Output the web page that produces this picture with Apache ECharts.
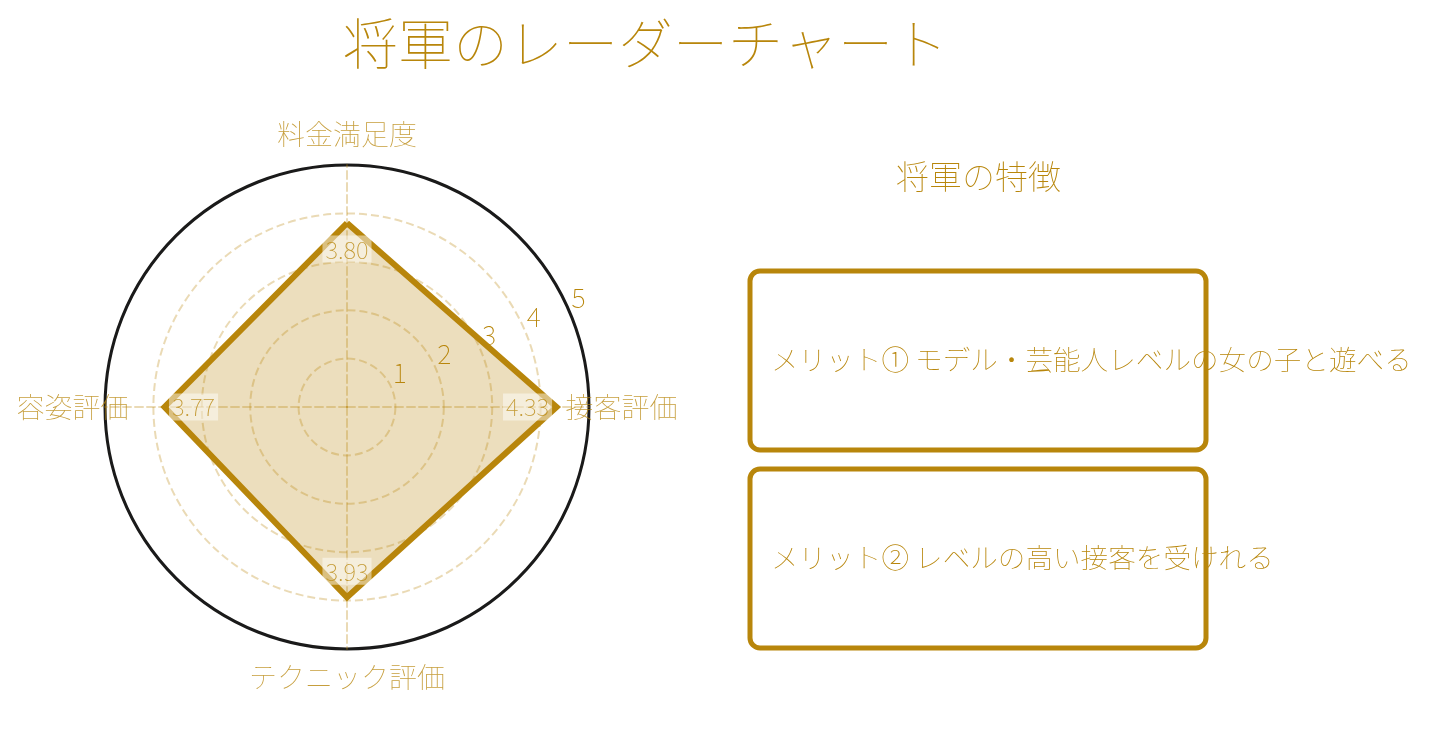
<!DOCTYPE html>
<html>
<head>
<meta charset="utf-8">
<script src="https://cdn.jsdelivr.net/npm/echarts@6/dist/echarts.min.js"></script>
<style>
  html, body { margin: 0; padding: 0; background: #fff; }
  #main { width: 1433px; height: 736px; }
</style>
</head>
<body>
<div id="main"></div>
<script>
// チャートのデータ（レーダーは上から反時計回り）
var indicatorNames = ['料金満足度', '容姿評価', 'テクニック評価', '接客評価'];
var scores = [3.80, 3.77, 3.93, 4.33];
var scoreMax = 5;
var merits = ['メリット① モデル・芸能人レベルの女の子と遊べる', 'メリット② レベルの高い接客を受けれる'];

var GOLD = '#B8860B';
var FONT = 'Noto Sans CJK JP';
var THIN = 100;

var chart = echarts.init(document.getElementById('main'));

// 値ラベルは内側に向ける
var valuePos = ['bottom', 'right', 'top', 'left'];
var valueDist = [12, 4, 12, 4];
var namePos = ['top', 'left', 'bottom', 'right'];
var nameDist = [16, -24, 14, -24];

var step = 360 / indicatorNames.length;

var valueLabels = scores.map(function (v, i) {
  return {
    value: [v, i * step],
    label: { position: valuePos[i], distance: valueDist[i] }
  };
});
var nameLabels = indicatorNames.map(function (n, i) {
  return {
    value: [scoreMax, i * step],
    name: n,
    label: { position: namePos[i], distance: nameDist[i] }
  };
});

var option = {
  backgroundColor: '#fff',
  title: [
    {
      text: '将軍のレーダーチャート',
      left: 338, top: 11,
      textStyle: { color: GOLD, fontSize: 55, fontFamily: FONT, fontWeight: THIN }
    },
    {
      text: '将軍の特徴',
      left: 891, top: 155,
      textStyle: { color: GOLD, fontSize: 33, fontFamily: FONT, fontWeight: THIN }
    }
  ],
  radar: {
    center: [347, 407],
    radius: 242,
    shape: 'circle',
    splitNumber: 5,
    startAngle: 90,
    indicator: indicatorNames.map(function (n) { return { name: n, min: 0, max: scoreMax }; }),
    axisName: { show: false },
    axisLine: { lineStyle: { color: 'rgba(184,134,11,0.3)', type: 'dashed', width: 2 } },
    splitLine: { lineStyle: { color: 'rgba(184,134,11,0.3)', type: 'dashed', width: 2 } },
    splitArea: { show: false }
  },
  polar: [
    { center: [347, 407], radius: 242 },
    { center: [355, 391], radius: 242 }
  ],
  angleAxis: [
    {
      polarIndex: 0, type: 'value', min: 0, max: 360, startAngle: 90, clockwise: false,
      axisLine: { show: true, lineStyle: { color: '#1a1a1a', width: 3 } },
      axisTick: { show: false }, axisLabel: { show: false }, splitLine: { show: false }
    },
    {
      polarIndex: 1, type: 'value', min: 0, max: 360, startAngle: 22.6,
      axisLine: { show: false }, axisTick: { show: false },
      axisLabel: { show: false }, splitLine: { show: false }
    }
  ],
  radiusAxis: [
    {
      polarIndex: 0, min: 0, max: scoreMax,
      axisLine: { show: false }, axisTick: { show: false },
      axisLabel: { show: false }, splitLine: { show: false }
    },
    {
      polarIndex: 1, min: 0, max: scoreMax, interval: 1,
      axisLine: { show: false }, axisTick: { show: false }, splitLine: { show: false },
      axisLabel: {
        showMinLabel: false, margin: 0, align: 'center', verticalAlign: 'middle',
        color: GOLD, fontSize: 27, fontFamily: FONT, fontWeight: THIN
      }
    }
  ],
  series: [
    {
      type: 'radar',
      symbol: 'none',
      lineStyle: { color: GOLD, width: 6, join: 'miter' },
      areaStyle: { color: 'rgba(184,134,11,0.27)', opacity: 1 },
      data: [{ value: scores, name: '将軍' }]
    },
    {
      type: 'scatter',
      coordinateSystem: 'polar',
      polarIndex: 0,
      z: 5,
      symbolSize: 1,
      itemStyle: { color: 'rgba(0,0,0,0)' },
      silent: true,
      label: {
        show: true,
        formatter: function (p) { return p.value[0].toFixed(2); },
        color: GOLD, fontSize: 24, fontFamily: FONT, fontWeight: THIN,
        backgroundColor: 'rgba(255,255,255,0.6)', padding: [2, 3, 1, 3]
      },
      data: valueLabels
    },
    {
      type: 'scatter',
      coordinateSystem: 'polar',
      polarIndex: 0,
      z: 5,
      symbolSize: 1,
      itemStyle: { color: 'rgba(0,0,0,0)' },
      silent: true,
      label: {
        show: true,
        formatter: '{b}',
        color: GOLD, fontSize: 28, fontFamily: FONT, fontWeight: THIN
      },
      data: nameLabels
    }
  ],
  graphic: merits.map(function (t, i) {
    var top = 271 + i * 198;
    return {
      type: 'group',
      children: [
        {
          type: 'rect',
          shape: { x: 750, y: top, width: 456, height: 179, r: 10 },
          style: { fill: 'none', stroke: GOLD, lineWidth: 5 }
        },
        {
          type: 'text',
          x: 771, y: top + 89,
          style: {
            text: t, fill: GOLD, fontSize: 27.6, fontFamily: FONT, fontWeight: THIN,
            verticalAlign: 'middle'
          }
        }
      ]
    };
  })
};

chart.setOption(option);
</script>
</body>
</html>
